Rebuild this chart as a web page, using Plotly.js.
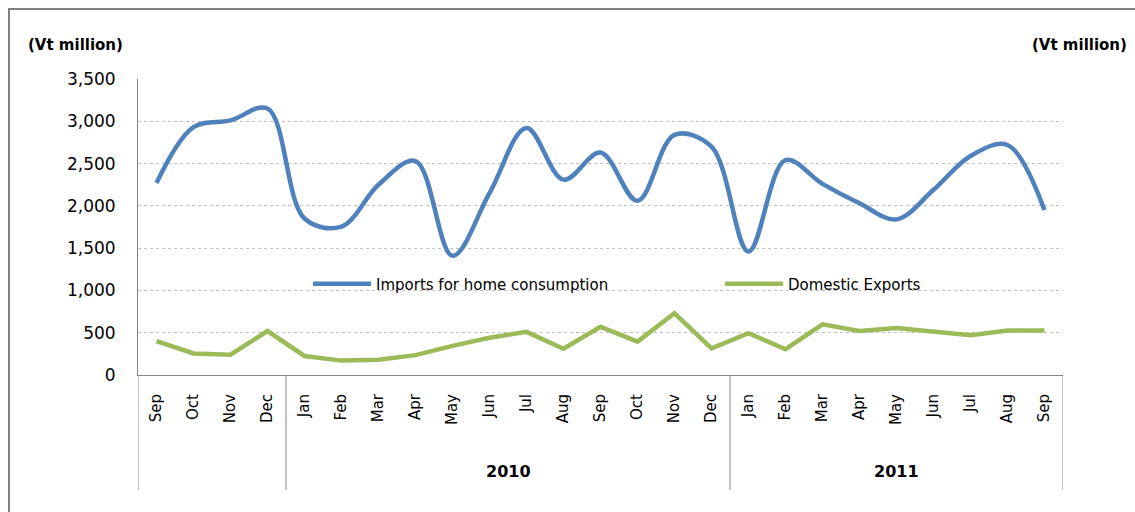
<!DOCTYPE html>
<html>
<head>
<meta charset="utf-8">
<script src="https://cdn.plot.ly/plotly-3.0.1.min.js"></script>
<style>html,body{margin:0;padding:0;background:#fff;}#chart{width:1135px;height:512px;}</style>
</head>
<body>
<div id="chart"></div>
<script>
// ---- data ----
const months = ["Sep","Oct","Nov","Dec","Jan","Feb","Mar","Apr","May","Jun","Jul","Aug","Sep","Oct","Nov","Dec","Jan","Feb","Mar","Apr","May","Jun","Jul","Aug","Sep"];
const yearLabels = ["", "2010", "2011"];
const imports = [2270,2930,3010,3150,1850,1755,2250,2530,1410,2150,2920,2310,2630,2060,2840,2700,1460,2540,2260,2030,1840,2190,2590,2720,1950];
const exportsDom = [400,255,240,520,225,170,180,235,345,440,510,310,570,395,730,315,495,305,600,520,555,515,470,525,525];
const seriesNames = ["Imports for home consumption", "Domestic Exports"];
const unitLabel = "(Vt million)";

// ---- layout geometry ----
const W = 1135, H = 512;
const M = {l: 138, r: 72, t: 79, b: 137};
const PW = W - M.l - M.r, PH = H - M.t - M.b;
const px2x = p => (p - M.l) / PW;
const px2y = p => (H - M.b - p) / PH;

const idx = months.map((m, i) => i);
const FONT = "DejaVu Sans, Verdana, sans-serif";

// group boundaries (year starts at Jan)
const bounds = [];
months.forEach((m, i) => { if (m === "Jan") bounds.push(i - 0.5); });
const groupEdges = [-0.5, ...bounds, months.length - 0.5];

const axisBottom = px2y(490);
const gray = "#868686";

const shapes = [];
shapes.push({type: "line", xref: "x", yref: "paper", x0: -0.5, x1: -0.5, y0: axisBottom, y1: 0, line: {color: gray, width: 1}});
groupEdges.slice(1).forEach(e => {
  shapes.push({type: "line", xref: "x", yref: "paper", x0: e, x1: e, y0: axisBottom, y1: 0, line: {color: gray, width: 1}});
});
shapes.push({type: "rect", xref: "paper", yref: "paper", x0: px2x(9), x1: px2x(1145), y0: px2y(522), y1: px2y(9), line: {color: "#7f7f7f", width: 2}, fillcolor: "rgba(0,0,0,0)"});

const annotations = [];
for (let g = 0; g < groupEdges.length - 1; g++) {
  if (!yearLabels[g]) continue;
  annotations.push({xref: "x", yref: "paper", x: (groupEdges[g] + groupEdges[g+1]) / 2, y: px2y(471), text: yearLabels[g], showarrow: false, font: {family: FONT, size: 16, color: "#000", weight: "bold"}, xanchor: "center", yanchor: "middle"});
}
annotations.push({xref: "paper", yref: "paper", x: px2x(75), y: px2y(45), text: unitLabel, showarrow: false, font: {family: FONT, size: 15, color: "#000", weight: "bold"}, xanchor: "center", yanchor: "middle"});
annotations.push({xref: "paper", yref: "paper", x: px2x(1079), y: px2y(45), text: unitLabel, showarrow: false, font: {family: FONT, size: 15, color: "#000", weight: "bold"}, xanchor: "center", yanchor: "middle"});

const traces = [
  {x: idx, y: imports, name: seriesNames[0], type: "scatter", mode: "lines", legend: "legend", line: {color: "#4F81BD", width: 4.5, shape: "spline", smoothing: 1}},
  {x: idx, y: exportsDom, name: seriesNames[1], type: "scatter", mode: "lines", legend: "legend2", line: {color: "#9BBB59", width: 4.5}}
];

const legendBase = {orientation: "h", xanchor: "left", yanchor: "middle", bgcolor: "rgba(255,255,255,0)", font: {family: FONT, size: 15, color: "#000"}, itemwidth: 58};

const layout = {
  width: W, height: H,
  margin: M,
  paper_bgcolor: "#fff", plot_bgcolor: "#fff",
  font: {family: FONT, size: 14, color: "#000"},
  showlegend: true,
  legend: Object.assign({}, legendBase, {x: px2x(308), y: px2y(284)}),
  legend2: Object.assign({}, legendBase, {x: px2x(720), y: px2y(284)}),
  xaxis: {
    range: [-0.5, months.length - 0.5],
    tickmode: "array", tickvals: idx, ticktext: months,
    tickangle: -90, ticks: "", showgrid: false, zeroline: false,
    showline: true, linecolor: gray, linewidth: 1, mirror: false,
    tickfont: {family: FONT, size: 15, color: "#000"},
    ticklabelstandoff: 12, fixedrange: true
  },
  yaxis: {
    range: [0, 3500], dtick: 500, tick0: 0, tickformat: ",d",
    showgrid: true, gridcolor: "#BFBFBF", griddash: "dot", gridwidth: 1,
    zeroline: false, showline: true, linecolor: gray, linewidth: 1,
    ticks: "", tickfont: {family: FONT, size: 17, color: "#000"},
    ticklabelstandoff: 18, fixedrange: true
  },
  shapes: shapes,
  annotations: annotations
};

Plotly.newPlot("chart", traces, layout, {displayModeBar: false, staticPlot: true});
</script>
</body>
</html>
